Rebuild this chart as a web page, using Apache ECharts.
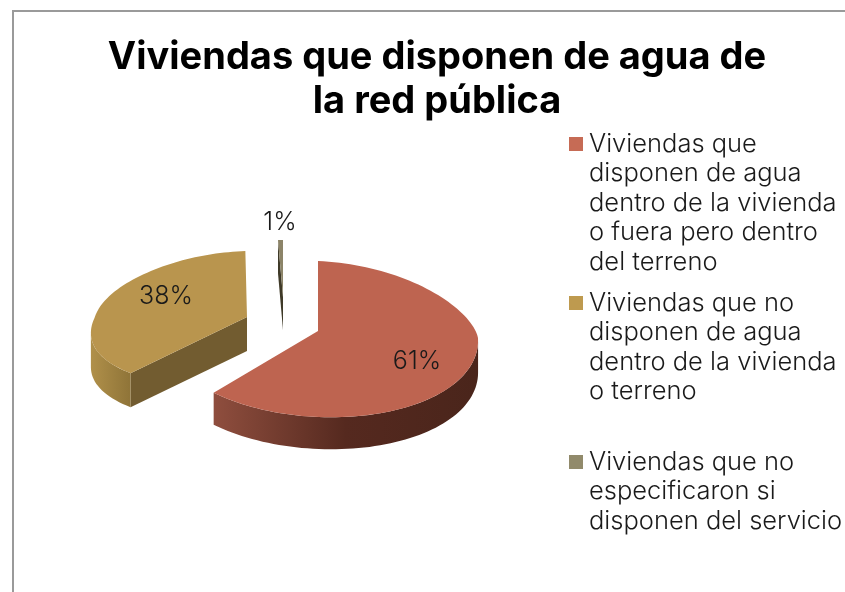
<!DOCTYPE html>
<html>
<head>
<meta charset="utf-8">
<style>
  html, body { margin: 0; padding: 0; background: #fff; }
  #main { width: 845px; height: 592px; }
</style>
</head>
<body>
<div id="main"></div>
<script src="https://cdn.jsdelivr.net/npm/echarts@6/dist/echarts.min.js"></script>
<script>
var categories = [
  'Viviendas que disponen de agua dentro de la vivienda o fuera pero dentro del terreno',
  'Viviendas que no disponen de agua dentro de la vivienda o terreno',
  'Viviendas que no especificaron si disponen del servicio'
];
var values = [61, 38, 1];
var valueLabels = ['61%', '38%', '1%'];
var legendLines = [
  ['Viviendas que', 'disponen de agua', 'dentro de la vivienda', 'o fuera pero dentro', 'del terreno'],
  ['Viviendas que no', 'disponen de agua', 'dentro de la vivienda', 'o terreno'],
  ['Viviendas que no', 'especificaron si', 'disponen del servicio']
];

// look of each slice: the picture has a perspective, so each one gets its own ellipse
var colors = ['#BE6450', '#B9954E', '#8C8468'];
var legendColors = ['#C66B55', '#BE9A4F', '#918A6B'];
var sliceGeom = [
  { cx: 318, cy: 331, rx: 160, ryT: 70, ryB: 86, k: 0.03, sh: 0, t: 7, p: 1.2, depth: 32, label: [417, 361] },
  { cx: 247, cy: 317, rx: 152, ryT: 66, ryB: 73, k: 0.2, sh: -6, t: 0, p: 0.85, depth: 34, label: [166, 296] },
  { cx: 283, cy: 297, rx: 80, ryT: 57, ryB: 57, k: 0, sh: 0, t: 0, p: 1, depth: 33, label: [280, 222] }
];
var rimColors = [
  [[0, '#8F4E3E'], [0.5, '#55291F'], [1, '#4A251B']],
  [[0, '#B0904A'], [1, '#8F7438']],
  [[0, '#3F3A28'], [1, '#3F3A28']]
];
var cutColors = ['#7A4234', '#725C30', '#3F3A28'];
var legendTops = [144, 303, 462];
var lineH = 29.6;

var total = values.reduce(function (a, b) { return a + b; }, 0);

function pt(g, deg) {
  var a = deg * Math.PI / 180;
  var c = Math.cos(a), v = Math.sin(a);
  var dy = v > 0 ? v * g.ryB : -Math.pow(-v, g.p) * g.ryT;
  return [
    g.cx + g.rx * c * (1 + g.k * v) + g.sh * v,
    g.cy + dy + g.t * c
  ];
}

function arc(g, from, to) {
  var pts = [];
  var n = Math.max(2, Math.ceil(Math.abs(to - from) / 2));
  for (var i = 0; i <= n; i++) pts.push(pt(g, from + (to - from) * i / n));
  return pts;
}

function down(p, d) { return [p[0], p[1] + d]; }

// angle where the outline is furthest out sideways, that is where the rim stops showing
function sideAngle(g, sign) {
  var best = sign > 0 ? 0 : 180;
  for (var d = -30; d <= 210; d++) {
    var inRange = sign > 0 ? d < 90 : d > 90;
    if (inRange && sign * pt(g, d)[0] > sign * pt(g, best)[0]) best = d;
  }
  return best;
}

function renderSlice(idx) {
  return function (params, api) {
    var g = sliceGeom[idx];
    var start = -90 + api.value(0) / total * 360;
    var end = -90 + api.value(1) / total * 360;
    var apex = [g.cx, g.cy];
    var children = [];

    // inner cut face that looks at the viewer (gold and the thin slice only)
    if (idx > 0) {
      var e = pt(g, start);
      children.push({
        type: 'polygon',
        shape: { points: [apex, e, down(e, g.depth), down(apex, g.depth)] },
        style: { fill: cutColors[idx] }
      });
    }

    // outer rim, only the front part
    var rimFrom = Math.max(start, sideAngle(g, 1));
    var rimTo = Math.min(end, sideAngle(g, -1));
    if (rimTo > rimFrom) {
      var top = arc(g, rimFrom, rimTo);
      var bottom = top.map(function (p) { return down(p, g.depth); }).reverse();
      children.push({
        type: 'polygon',
        shape: { points: top.concat(bottom) },
        style: {
          fill: new echarts.graphic.LinearGradient(0, 0, 1, 0, rimColors[idx].map(function (s) {
            return { offset: s[0], color: s[1] };
          }))
        }
      });
    }

    // top face
    children.push({
      type: 'polygon',
      shape: { points: [apex].concat(arc(g, start, end)) },
      style: { fill: colors[idx] }
    });

    children.push({
      type: 'text',
      style: {
        x: g.label[0],
        y: g.label[1],
        text: valueLabels[idx],
        align: 'center',
        verticalAlign: 'middle',
        font: '300 25px Inter',
        fill: '#1a1a1a'
      }
    });

    return { type: 'group', children: children };
  };
}

var cum = 0;
var series = categories.map(function (name, i) {
  var s = {
    type: 'custom',
    name: name,
    coordinateSystem: 'none',
    silent: true,
    animation: false,
    itemStyle: { color: legendColors[i] },
    renderItem: renderSlice(i),
    data: [[cum, cum + values[i]]]
  };
  cum += values[i];
  return s;
});

// icon sits at the middle of the text, so blank lines go in front to pull it to line one
var legends = categories.map(function (name, i) {
  var lines = legendLines[i];
  var pad = new Array(lines.length).join('\n');
  return {
    data: [name],
    orient: 'vertical',
    left: 569,
    top: legendTops[i] - (lines.length - 1) * lineH - lineH / 2,
    padding: 0,
    icon: 'rect',
    itemWidth: 14,
    itemHeight: 14,
    itemGap: 0,
    selectedMode: false,
    formatter: function () { return pad + lines.join('\n'); },
    textStyle: {
      fontFamily: 'Inter',
      fontWeight: 300,
      fontSize: 25.5,
      lineHeight: lineH,
      color: '#1a1a1a',
      padding: [0, 0, 0, 1]
    }
  };
});

var chart = echarts.init(document.getElementById('main'));
chart.setOption({
  backgroundColor: '#fff',
  animation: false,
  title: {
    text: 'Viviendas que disponen de agua de\nla red pública',
    left: 437,
    top: 36,
    textAlign: 'center',
    padding: 0,
    textStyle: {
      fontFamily: 'Inter',
      fontWeight: 'bold',
      fontSize: 38,
      lineHeight: 44,
      color: '#000'
    }
  },
  legend: legends,
  graphic: [
    {
      type: 'rect',
      silent: true,
      shape: { x: 13, y: 11, width: 900, height: 700 },
      style: { fill: 'none', stroke: '#9a9a9a', lineWidth: 2 }
    }
  ],
  series: series
});
</script>
</body>
</html>
